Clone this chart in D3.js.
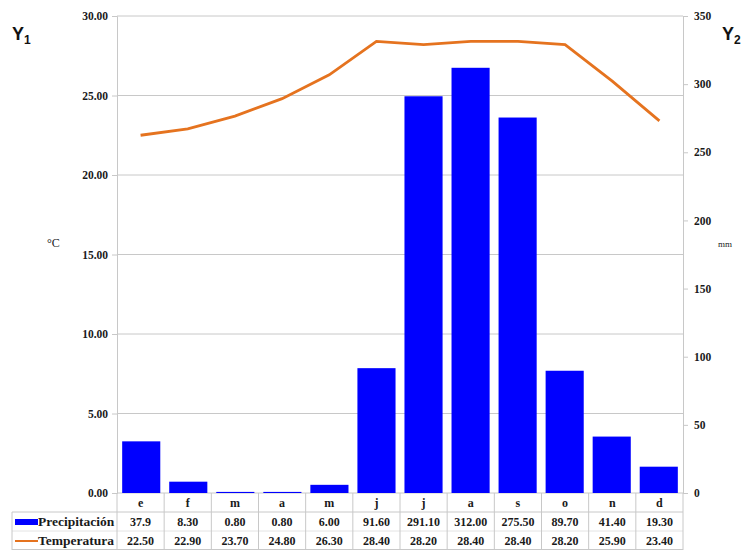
<!DOCTYPE html>
<html><head><meta charset="utf-8">
<script src="https://cdn.jsdelivr.net/npm/d3@7"></script>
<style>body{margin:0;background:#fff}svg{display:block}</style>
</head><body><svg id="c" width="746" height="550"></svg>
<script>
const months = ["e","f","m","a","m","j","j","a","s","o","n","d"];
const precip = [37.9,8.30,0.80,0.80,6.00,91.60,291.10,312.00,275.50,89.70,41.40,19.30];
const precipLabels = ["37.9","8.30","0.80","0.80","6.00","91.60","291.10","312.00","275.50","89.70","41.40","19.30"];
const temp = [22.50,22.90,23.70,24.80,26.30,28.40,28.20,28.40,28.40,28.20,25.90,23.40];
const leftTicks = [0,5,10,15,20,25,30];
const rightTicks = [0,50,100,150,200,250,300,350];

const svg = d3.select("#c");
const L = 117, R = 683, T = 16, B = 493;
const serif = "'Liberation Serif','Times New Roman',serif";
const blue = "#0000ff", orange = "#e5731f", grid = "#c8c8c8", ink = "#1a1a1a";

const x = d3.scaleBand().domain(d3.range(12)).range([L, R]).paddingInner(0.19).paddingOuter(0.11);
const xs = d3.scaleBand().domain(d3.range(12)).range([L, R]);
const yL = d3.scaleLinear().domain([0,30]).range([B, T]);
const yR = d3.scaleLinear().domain([0,350]).range([B, T]);

// gridlines
svg.append("g").selectAll("line").data(leftTicks).join("line")
  .attr("x1", L).attr("x2", R).attr("y1", d=>yL(d)).attr("y2", d=>yL(d))
  .attr("stroke", grid).attr("stroke-width", 1);

// left axis
const gL = svg.append("g").attr("transform", `translate(${L},0)`)
  .call(d3.axisLeft(yL).tickValues(leftTicks).tickFormat(d3.format(".2f")).tickSize(5).tickPadding(4));
gL.select(".domain").attr("stroke", grid);
gL.selectAll(".tick line").attr("stroke", grid);
gL.selectAll("text").attr("font-family", serif).attr("font-weight", "bold").attr("font-size", 11.5).attr("fill", ink);

// right axis
const gR = svg.append("g").attr("transform", `translate(${R},0)`)
  .call(d3.axisRight(yR).tickValues(rightTicks).tickSize(5).tickPadding(6));
gR.select(".domain").attr("stroke", grid);
gR.selectAll(".tick line").attr("stroke", grid);
gR.selectAll("text").attr("font-family", serif).attr("font-weight", "bold").attr("font-size", 11.5).attr("fill", ink);

// bars
svg.append("g").selectAll("rect").data(precip).join("rect")
  .attr("x", (d,i)=>x(i)).attr("width", x.bandwidth())
  .attr("y", d=>yR(d)).attr("height", d=>B - yR(d)).attr("fill", blue);

// temperature line
svg.append("path").datum(temp)
  .attr("d", d3.line().x((d,i)=>xs(i)+xs.bandwidth()/2).y(d=>yL(d)))
  .attr("fill", "none").attr("stroke", orange).attr("stroke-width", 2.8);

// unit labels
svg.append("text").attr("x", 47).attr("y", 247).text("°C")
  .attr("font-family", serif).attr("font-size", 12).attr("fill", ink);
svg.append("text").attr("x", 718).attr("y", 247).text("mm")
  .attr("font-family", serif).attr("font-size", 9).attr("fill", ink);

// Y1 / Y2 labels
const yl1 = svg.append("text").attr("x", 12).attr("y", 40).attr("font-family", "'Liberation Sans',Arial,sans-serif").attr("font-weight", "bold").attr("font-size", 18).attr("fill", "#111");
yl1.append("tspan").text("Y");
yl1.append("tspan").text("1").attr("font-size", 12).attr("dy", 4);
const yl2 = svg.append("text").attr("x", 722).attr("y", 40).attr("font-family", "'Liberation Sans',Arial,sans-serif").attr("font-weight", "bold").attr("font-size", 18).attr("fill", "#111");
yl2.append("tspan").text("Y");
yl2.append("tspan").text("2").attr("font-size", 12).attr("dy", 4);

// data table
const r0 = B, r1 = 512, r2 = 531, r3 = 550, tL = 12;
const tg = svg.append("g");
tg.append("line").attr("x1", tL).attr("x2", R).attr("y1", r1).attr("y2", r1).attr("stroke", grid);
tg.append("line").attr("x1", tL).attr("x2", R).attr("y1", r2).attr("y2", r2).attr("stroke", "#e4e4e4");
tg.append("line").attr("x1", tL).attr("x2", R).attr("y1", r3-0.5).attr("y2", r3-0.5).attr("stroke", grid);
tg.append("line").attr("x1", tL).attr("x2", tL).attr("y1", r1).attr("y2", r3).attr("stroke", grid);
tg.selectAll("line.v").data(d3.range(13)).join("line").attr("class","v")
  .attr("x1", i=>L + i*xs.step()).attr("x2", i=>L + i*xs.step())
  .attr("y1", r0).attr("y2", r3).attr("stroke", grid);

const cellText = (arr, yy) => tg.append("g").selectAll("text").data(arr).join("text")
  .attr("x", (d,i)=>xs(i)+xs.bandwidth()/2).attr("y", yy).attr("text-anchor", "middle")
  .attr("font-family", serif).attr("font-weight", "bold").attr("font-size", 12).attr("fill", ink)
  .text(d=>d);
cellText(months, 507);
cellText(precipLabels, 526);
cellText(temp.map(d=>d.toFixed(2)), 545);

// legend keys
tg.append("rect").attr("x", 15).attr("y", 519).attr("width", 23).attr("height", 6).attr("fill", blue);
tg.append("line").attr("x1", 15).attr("x2", 38).attr("y1", 541).attr("y2", 541).attr("stroke", orange).attr("stroke-width", 2);
tg.append("text").attr("x", 38).attr("y", 526).text("Precipitación")
  .attr("font-family", serif).attr("font-weight", "bold").attr("font-size", 13.5).attr("fill", ink);
tg.append("text").attr("x", 38).attr("y", 545).text("Temperatura")
  .attr("font-family", serif).attr("font-weight", "bold").attr("font-size", 13.5).attr("fill", ink);
</script></body></html>
